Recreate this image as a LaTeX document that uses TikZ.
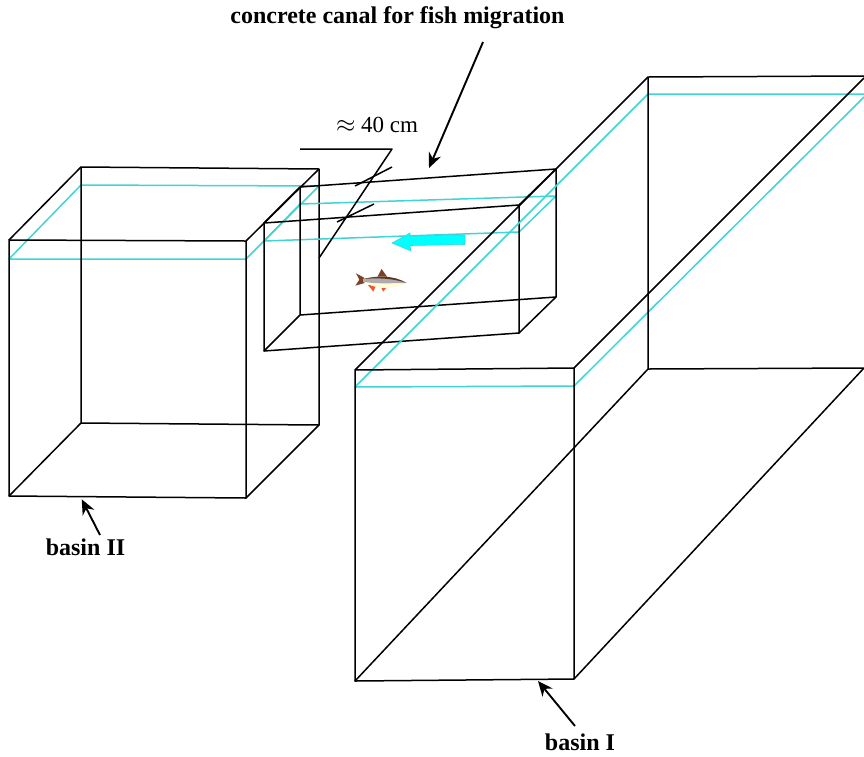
\documentclass[tikz,border=0pt]{standalone}
\usepackage{fontspec}
\setmainfont{Liberation Serif}
\usepackage{tikz}
\usetikzlibrary{arrows.meta,positioning}
\definecolor{waterline}{RGB}{64,212,212}
\definecolor{flowarrow}{RGB}{0,255,255}
\definecolor{finred}{RGB}{245,85,45}
\definecolor{finbrown}{RGB}{125,65,40}
\tikzset{
	edgeline/.style={draw=black,line width=1.5pt,line join=round},
	waterlevel/.style={draw=waterline,line width=1.5pt,line join=round},
	pointer/.style={draw=black,line width=1.9pt,-{Stealth[length=15pt,width=13pt]}},
	boldlabel/.style={inner sep=0pt,anchor=base,font=\fontsize{24}{28}\selectfont\bfseries},
	dimlabel/.style={inner sep=0pt,font=\fontsize{23}{27}\selectfont}
}

\begin{document}
\begin{tikzpicture}[x=1pt,y=-1pt]
	\useasboundingbox (0,0) rectangle (864,756);

	%% Basin II
	\coordinate (a1) at (9,240);
	\coordinate (a2) at (246,241);
	\coordinate (a3) at (246,498);
	\coordinate (a4) at (9,496);
	\coordinate (a5) at (81,167);
	\coordinate (a6) at (319,169);
	\coordinate (a7) at (319,425);
	\coordinate (a8) at (81,423);
	\draw[waterlevel] (9,259) -- (246,259) -- (319,186) -- (81,185) -- cycle;
	\draw[edgeline] (a1) -- (a2) -- (a3) -- (a4) -- cycle;
	\draw[edgeline] (a5) -- (a6) -- (a7) -- (a8) -- cycle;
	\draw[edgeline] (a1) -- (a5) (a2) -- (a6) (a3) -- (a7) (a4) -- (a8);

	%% Canal
	\coordinate (c1) at (264,223);
	\coordinate (c2) at (519,205);
	\coordinate (c3) at (519,333);
	\coordinate (c4) at (264,351);
	\coordinate (c5) at (300,187);
	\coordinate (c6) at (556,169);
	\coordinate (c7) at (556,297);
	\coordinate (c8) at (300,315);
	\draw[waterlevel] (264,241) -- (519,232) -- (556,196) -- (300,204) -- cycle;
	\draw[edgeline] (c1) -- (c2) -- (c3) -- (c4) -- cycle;
	\draw[edgeline] (c5) -- (c6) -- (c7) -- (c8) -- cycle;
	\draw[edgeline] (c1) -- (c5) (c2) -- (c6) (c3) -- (c7) (c4) -- (c8);

	%% Basin I
	\coordinate (b1) at (355,370);
	\coordinate (b2) at (574,368);
	\coordinate (b3) at (574,679);
	\coordinate (b4) at (355,681);
	\coordinate (b5) at (648,77);
	\coordinate (b6) at (864,76);
	\coordinate (b7) at (864,78);
	\coordinate (b8) at (864,368);
	\coordinate (b9) at (648,369);
	\draw[waterlevel] (864,97) -- (574,386) -- (355,387) -- (648,94) -- (864,94);
	\draw[edgeline] (b1) -- (b2) -- (b3) -- (b4) -- cycle;
	\draw[edgeline] (b1) -- (b5) -- (b6);
	\draw[edgeline] (b2) -- (b7);
	\draw[edgeline] (b3) -- (b8) -- (b9) -- (b5);
	\draw[edgeline] (b4) -- (b9);

	%% Width of the canal
	\coordinate (d1) at (300,149);
	\coordinate (d2) at (392,149);
	\coordinate (d3) at (319,258);
	\draw[edgeline] (d1) -- (d2) -- (d3);
	\draw[edgeline] (392,167) -- (355,186);
	\draw[edgeline] (374,204) -- (337,222);
	\node[dimlabel] (width) at (377,125) {$\approx$ 40 cm};

	%% Flow arrow
	\path[fill=flowarrow,draw=waterline,line width=0.6pt]
		(465,235) -- (410,236) -- (410,233) -- (392,243) -- (411,251) -- (410,245.5) -- (465,244.5) -- cycle;

	%% Fish
	\begin{scope}[shift={(340,255)},x=0.333pt,y=-0.333pt]
		\fill[finbrown] (112,66) -- (125,42) -- (142,66) -- cycle;
		\fill[finbrown] (46,92) -- (58,74) -- (48,55) -- (72,68) -- (74,84) -- cycle;
		\fill[finred] (84,90) -- (108,92) -- (100,110) -- cycle;
		\fill[finred] (124,100) -- (140,98) -- (130,110) -- cycle;
		\fill[finred] (154,86) -- (170,88) -- (162,94) -- cycle;
		\fill[white!85!yellow] (70,72) .. controls (110,62) and (160,60) .. (200,84)
			.. controls (170,104) and (110,106) .. (70,80) -- cycle;
		\fill[gray!65] (70,72) .. controls (110,62) and (160,60) .. (200,84)
			.. controls (160,84) and (110,88) .. (70,80) -- cycle;
		\fill[finbrown!80!black] (70,72) .. controls (110,62) and (160,60) .. (200,84)
			.. controls (160,70) and (110,68) .. (70,72) -- cycle;
	\end{scope}

	%% Labels
	\node[boldlabel] (canal) at (397.5,23) {concrete canal for fish migration};
	\node[boldlabel] (basinII) at (85.5,555) {basin II};
	\node[boldlabel] (basinI) at (580,750) {basin I};
	\coordinate (p1) at (483,42);
	\coordinate (p2) at (429,168);
	\coordinate (p3) at (100,535);
	\coordinate (p4) at (81.7,499.3);
	\coordinate (p5) at (575,726);
	\coordinate (p6) at (538,681);
	\draw[pointer] (p1) -- (p2);
	\draw[pointer] (p3) -- (p4);
	\draw[pointer] (p5) -- (p6);
\end{tikzpicture}
\end{document}
